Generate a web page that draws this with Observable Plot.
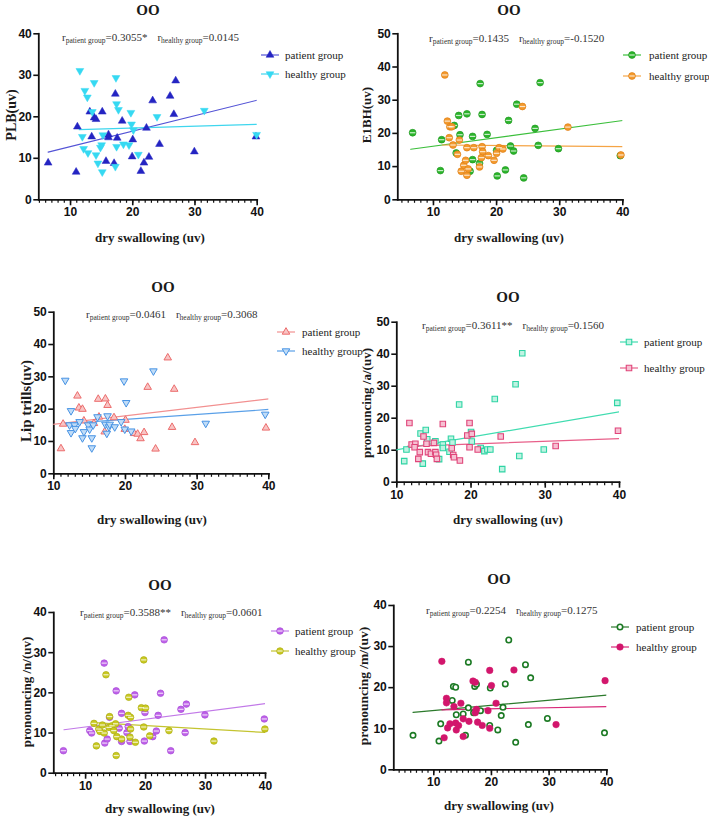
<!DOCTYPE html>
<html>
<head>
<meta charset="utf-8">
<script src="https://cdn.jsdelivr.net/npm/d3@7"></script>
<script src="https://cdn.jsdelivr.net/npm/@observablehq/plot@0.6"></script>
<style>
  body { margin: 0; background: #fff; }
  #figure { position: relative; width: 709px; height: 819px; overflow: hidden; background: #fff; }
  .t { position: absolute; white-space: nowrap; color: #1a1a1a; line-height: 1; }
  .title { font: bold 15px "Liberation Serif", "Times New Roman", serif; transform: translate(-50%, -50%); }
  .xlab { font: bold 13px "Liberation Serif", "Times New Roman", serif; transform: translate(-50%, -50%); }
  .ylab { font: bold 13px "Liberation Serif", "Times New Roman", serif; transform: translate(-50%, -50%) rotate(-90deg); }
  .corr { font: 11px "Liberation Serif", "Times New Roman", serif; color: #333; transform: translateY(-50%); }
  .corr sub { font-size: 7.5px; vertical-align: -2px; }
  .leg { font: 11px "Liberation Serif", "Times New Roman", serif; color: #222; transform: translateY(-50%); }
  .swatch { position: absolute; overflow: visible; }
</style>
</head>
<body>
<div id="figure"></div>
<script>
// ---- data: [dry swallowing, measure] pairs per group ----
const groups = ["patient group", "healthy group"];
const xTitle = "dry swallowing (uv)";

const plbPatient = [[6.4,8.9],[10.9,6.7],[11.1,17.6],[13.1,21.2],[13.4,15.2],[13.8,19.8],[14.1,19.4],[15.1,21.2],[15.7,9.3],[16.1,15.7],[16.1,15.0],[17.0,8.8],[17.2,25.5],[17.5,14.9],[18.3,19.0],[20.0,14.5],[19.9,10.4],[21.3,6.9],[21.8,8.9],[22.2,17.3],[22.6,10.3],[23.2,23.9],[24.3,13.4],[26.0,25.0],[26.6,20.6],[26.9,28.7],[29.9,11.6],[39.8,15.2]];
const plbHealthy = [[11.5,31.1],[11.9,15.2],[12.3,26.3],[12.1,12.3],[12.7,24.7],[12.8,11.3],[13.5,21.2],[13.8,28.2],[14.1,10.8],[14.4,8.8],[14.8,12.6],[15.0,13.2],[15.1,6.7],[15.2,15.6],[17.3,29.4],[17.2,8.0],[17.4,23.1],[17.7,21.7],[17.4,12.8],[18.5,13.4],[19.4,13.2],[19.7,21.0],[19.8,18.2],[20.1,16.8],[20.9,10.9],[23.9,20.0],[31.5,21.5],[39.9,15.7]];
const plbFit = [[9.12, 0.372], [16.38, 0.0455]];          // [intercept, slope]
const plbR = ["0.3055*", "0.0145"];

const e1bhPatient = [[6.7,20.2],[11.1,8.8],[11.3,18.1],[13.3,22.4],[13.6,14.1],[14.0,25.4],[14.2,19.6],[15.3,25.9],[15.8,8.6],[16.2,19.1],[16.2,12.1],[17.3,11.0],[17.4,35.0],[17.7,25.7],[18.5,19.7],[20.0,14.9],[20.1,7.2],[21.4,9.0],[21.9,23.9],[22.2,16.2],[22.7,14.7],[23.2,28.8],[24.3,6.6],[26.1,21.5],[26.6,16.4],[26.9,35.3],[29.8,15.4],[39.6,13.3]];
const e1bhHealthy = [[11.8,37.6],[12.2,23.7],[12.6,22.0],[12.9,22.0],[12.5,18.7],[13.1,16.5],[13.8,13.7],[14.1,18.0],[14.4,8.6],[14.8,10.4],[15.1,11.9],[15.3,15.7],[15.3,7.4],[15.5,9.3],[16.4,15.7],[17.3,9.9],[17.6,12.7],[17.7,16.0],[17.8,14.5],[18.7,13.3],[19.6,11.9],[20.0,14.0],[20.4,15.7],[21.0,15.3],[24.1,28.1],[31.3,21.9],[39.7,13.5]];
const e1bhFit = [[13.57, 0.258], [16.71, -0.0177]];
const e1bhR = ["0.1435", "-0.1520"];

const lipPatient = [[11.0,7.8],[11.3,15.4],[13.3,24.1],[13.5,20.4],[14.0,20.0],[14.2,16.4],[15.6,15.6],[16.2,23.1],[16.3,17.6],[17.1,13.0],[17.2,23.2],[17.5,21.2],[18.4,17.4],[19.9,13.8],[20.0,16.6],[21.2,12.5],[21.7,12.3],[22.1,10.9],[22.6,12.8],[23.1,26.8],[24.2,7.7],[25.9,35.9],[26.5,14.4],[26.8,26.2],[29.7,9.7],[39.6,14.2]];
const lipHealthy = [[11.6,28.9],[12.2,15.1],[12.4,19.5],[12.4,12.7],[12.9,15.1],[13.0,14.0],[13.6,16.1],[14.0,11.1],[14.2,13.0],[14.8,15.1],[15.0,13.8],[15.3,11.1],[15.3,8.0],[15.5,15.1],[16.1,17.6],[17.2,15.3],[17.4,12.5],[17.5,17.9],[17.7,14.5],[17.8,15.3],[18.5,14.5],[19.4,16.1],[19.8,28.7],[19.9,13.8],[20.1,22.0],[20.8,13.2],[23.9,31.8],[31.2,15.6],[39.5,18.4]];
const lipFit = [[12.67, 0.263], [13.75, 0.154]];
const lipR = ["0.0461", "0.3068"];

const aPatient = [[11.0,6.6],[11.3,10.2],[13.2,15.2],[13.5,5.8],[13.9,16.3],[14.1,13.4],[15.2,12.8],[15.7,7.2],[16.2,11.8],[16.2,10.7],[17.1,9.5],[17.3,13.6],[17.5,12.4],[18.4,24.3],[20.0,15.7],[20.1,12.7],[21.3,10.7],[21.8,9.7],[22.2,10.2],[22.6,10.2],[23.2,26.0],[24.2,4.1],[26.0,30.6],[26.5,8.2],[26.9,40.3],[29.8,10.2],[39.7,24.8]];
const aHealthy = [[11.7,18.5],[12.0,11.8],[12.5,12.0],[12.4,10.9],[12.9,7.3],[13.1,9.4],[13.6,14.3],[14.0,12.0],[14.2,9.4],[14.6,8.9],[15.0,12.3],[15.2,9.4],[15.3,8.6],[15.4,7.3],[16.2,18.2],[17.4,10.6],[17.6,8.5],[17.7,7.8],[18.5,6.8],[19.5,14.6],[19.8,18.5],[19.8,10.9],[20.1,15.1],[20.9,10.2],[24.0,14.3],[31.4,11.3],[39.8,16.1]];
const aFit = [[6.2, 0.395], [10.24, 0.084]];
const aR = ["0.3611**", "0.1560"];

const nPatient = [[6.3,5.6],[10.7,10.6],[11.0,10.0],[13.1,27.4],[13.2,7.5],[13.6,8.5],[14.0,13.9],[15.1,20.5],[15.6,11.2],[16.0,14.9],[16.0,7.9],[16.9,10.1],[17.1,11.6],[17.4,7.9],[18.2,19.5],[19.9,15.1],[19.8,8.0],[21.2,9.1],[21.8,10.5],[22.1,14.4],[22.5,19.9],[23.1,33.2],[24.2,5.6],[25.9,15.9],[26.6,10.1],[26.8,17.2],[29.9,14.5],[39.8,13.5]];
const nHealthy = [[11.4,12.4],[11.8,6.8],[12.2,11.0],[12.4,10.4],[12.8,12.0],[13.1,10.0],[13.4,24.5],[13.9,11.4],[14.0,14.1],[14.4,11.8],[14.7,10.6],[15.0,12.3],[15.2,9.1],[15.1,4.4],[16.0,8.5],[17.1,14.4],[17.2,18.9],[17.5,13.9],[17.5,11.0],[17.4,9.0],[18.3,7.7],[19.3,16.3],[20.0,16.2],[19.7,28.2],[19.7,11.5],[20.7,9.3],[23.9,10.6],[31.4,8.0],[39.9,11.0]];
const nFit = [[9.58, 0.194], [13.57, -0.086]];
const nR = ["0.3588**", "0.0601"];

const mPatient = [[6.4,8.4],[10.9,7.0],[11.2,11.2],[13.2,16.9],[13.4,20.3],[13.8,20.1],[13.9,13.4],[15.1,13.6],[15.5,8.4],[16.0,26.2],[16.0,15.1],[16.9,13.9],[17.1,20.3],[17.4,20.8],[18.1,14.4],[19.8,19.9],[19.7,10.8],[21.1,9.7],[21.7,13.2],[22.0,15.2],[22.4,20.9],[23.0,31.6],[24.2,6.7],[25.9,25.6],[26.4,11.0],[26.8,22.4],[29.7,12.5],[39.6,9.0]];
const mHealthy = [[11.4,26.4],[11.8,7.8],[12.2,17.4],[12.2,16.3],[12.4,10.2],[12.8,11.2],[13.5,15.4],[13.8,11.4],[13.9,9.7],[14.3,10.8],[14.7,16.2],[15.1,12.4],[15.1,8.1],[16.1,11.8],[16.8,21.6],[17.2,21.3],[17.2,13.9],[17.4,14.7],[17.6,11.6],[18.4,10.8],[19.4,14.4],[19.7,24.2],[19.7,10.1],[20.0,20.5],[20.8,16.2],[23.9,24.3],[31.2,11.0],[39.7,21.7]];
const mFit = [[13.2, 0.125], [14.28, 0.028]];
const mR = ["0.2254", "0.1275"];

// x extent of each group's fitted line
const fitSpan = [[6.4, 40], [11.4, 40]];

// horizontal highlight drawn across the shaded circle markers
const band = {
  draw(context, size) {
    const r = Math.sqrt(size / Math.PI);
    context.moveTo(-r * 0.8, 0);
    context.lineTo(r * 0.8, 0);
  }
};

// ---- panel layout and styling ----
const panels = [
  { yTitle: "PLB(uv)", series: [plbPatient, plbHealthy], fit: plbFit, r: plbR,
    box: [0, 20, 354, 205], frame: [38.3, 33.3, 256.7, 199.3], x0: 4.9, ymax: 40,
    title: [148, 10], corr: [62, 38], yLab: [12, 115, 14], xLab: [150, 238],
    legend: { cx: 270, tx: 285, ys: [55, 74] },
    styles: [
      { symbol: "triangle", fill: "#2424c2", stroke: "#2424c2", sw: 0.5, r: 2.9, line: "#5454d6" },
      { symbol: "triangle", rotate: 180, fill: "#36d9f2", stroke: "#36d9f2", sw: 0.5, r: 2.9, line: "#3fd6ee" }
    ] },
  { yTitle: "E1BH(uv)", series: [e1bhPatient, e1bhHealthy], fit: e1bhFit, r: e1bhR,
    box: [354, 20, 355, 205], frame: [397.3, 33.3, 622.3, 199.3], x0: 4.35, ymax: 50,
    title: [509, 10], corr: [429, 39], yLab: [367, 115, 13], xLab: [509, 238],
    legend: { cx: 632, tx: 649, ys: [55, 76] },
    styles: [
      { symbol: "circle", fill: "#2cb52c", stroke: "#1f9a1f", sw: 0.7, r: 3.4, band: true, line: "#3cbf3c" },
      { symbol: "circle", fill: "#f39a2e", stroke: "#e07e12", sw: 0.7, r: 3.4, band: true, line: "#f5a445" }
    ] },
  { yTitle: "Lip trills(uv)", series: [lipPatient, lipHealthy], fit: lipFit, r: lipR,
    box: [0, 300, 354, 200], frame: [53.3, 311.7, 268.3, 473.3], x0: 10, ymax: 50,
    title: [163, 287], corr: [86, 315], yLab: [26, 401, 15], xLab: [152, 520],
    legend: { cx: 286, tx: 302, ys: [332, 351] },
    styles: [
      { symbol: "triangle", fill: "#f8c4c4", stroke: "#ec6c6c", sw: 1, r: 2.8, line: "#f29090" },
      { symbol: "triangle", rotate: 180, fill: "#c0dcf7", stroke: "#4793e4", sw: 1, r: 2.8, line: "#5aa0e8" }
    ] },
  { yTitle: "pronouncing /a/(uv)", series: [aPatient, aHealthy], fit: aFit, r: aR,
    box: [354, 310, 355, 200], frame: [396.3, 321.7, 619, 481.7], x0: 10, ymax: 50,
    title: [508, 297], corr: [422, 326], yLab: [367, 403, 13], xLab: [508, 520],
    legend: { cx: 629, tx: 644, ys: [342, 368] },
    styles: [
      { symbol: "square", fill: "#bff3e2", stroke: "#2ed4a4", sw: 1.1, r: 3.1, line: "#40dcb0" },
      { symbol: "square", fill: "#f6c0d2", stroke: "#e0457a", sw: 1.1, r: 3.1, line: "#e8608a" }
    ] },
  { yTitle: "pronouncing /n/(uv)", series: [nPatient, nHealthy], fit: nFit, r: nR,
    box: [0, 600, 354, 200], frame: [53.3, 612, 265, 772.7], x0: 4.7, ymax: 40,
    title: [160, 585], corr: [80, 613], yLab: [27, 692, 13], xLab: [160, 809],
    legend: { cx: 280, tx: 295, ys: [631, 651] },
    styles: [
      { symbol: "circle", fill: "#be62e8", stroke: "#a848d8", sw: 0.7, r: 3.3, band: true, line: "#c27ae8" },
      { symbol: "circle", fill: "#c9c922", stroke: "#aeae10", sw: 0.7, r: 3.3, band: true, line: "#c4c430" }
    ] },
  { yTitle: "pronouncing /m/(uv)", series: [mPatient, mHealthy], fit: mFit, r: mR,
    box: [354, 595, 355, 200], frame: [393.3, 605, 606.3, 769.3], x0: 3.07, ymax: 40,
    title: [499, 579], corr: [426, 611], yLab: [364, 686, 13.5], xLab: [499, 806],
    legend: { cx: 620, tx: 636, ys: [627, 647] },
    styles: [
      { symbol: "circle", fill: "#ffffff", stroke: "#1c7a24", sw: 1.6, r: 2.7, line: "#2c7a2c" },
      { symbol: "circle", fill: "#d2166c", stroke: "#d2166c", sw: 0.5, r: 3.3, line: "#d82878" }
    ] }
];

const fig = document.getElementById("figure");

function addText(cls, html, x, y) {
  const d = document.createElement("div");
  d.className = "t " + cls;
  d.innerHTML = html;
  d.style.left = x + "px";
  d.style.top = y + "px";
  fig.appendChild(d);
  return d;
}

function dotMarks(pts, s) {
  const marks = [
    Plot.dot(pts, {
      x: d => d[0], y: d => d[1], symbol: s.symbol, rotate: s.rotate || 0,
      r: s.r, fill: s.fill, stroke: s.stroke, strokeWidth: s.sw
    })
  ];
  if (s.band) {
    marks.push(Plot.dot(pts, {
      x: d => d[0], y: d => d[1], symbol: band, r: s.r,
      stroke: "#ffffff", strokeOpacity: 0.75, strokeWidth: 1.2
    }));
  }
  return marks;
}

function drawPanel(p) {
  const [bx, by, bw, bh] = p.box;
  const [fl, ft, fr, fb] = p.frame;
  const fitLines = p.fit.map(([a, b], i) => {
    const [x0, x1] = fitSpan[i];
    return Plot.line([[x0, a + b * x0], [x1, a + b * x1]], {
      x: d => d[0], y: d => d[1], stroke: p.styles[i].line, strokeWidth: 1.2, clip: true
    });
  });
  const svg = Plot.plot({
    width: bw, height: bh,
    marginLeft: fl - bx, marginRight: bx + bw - fr,
    marginTop: ft - by, marginBottom: by + bh - fb,
    x: { domain: [p.x0, 40] },
    y: { domain: [0, p.ymax] },
    style: "font-family: 'Liberation Sans', Arial, sans-serif; font-size: 12px; font-weight: bold; color: #111; background: transparent; overflow: visible;",
    marks: [
      Plot.axisY({ ticks: d3.range(0, p.ymax + 1, 10), tickSize: 5, tickPadding: 2, strokeWidth: 1.6, label: null }),
      Plot.axisX({ ticks: [10, 20, 30, 40], tickSize: 6, tickPadding: 2, strokeWidth: 1.6, label: null }),
      Plot.axisX({ ticks: d3.range(Math.ceil(p.x0), 41), tickSize: 3.5, strokeWidth: 1.2, tickFormat: () => "", label: null }),
      Plot.frame({ anchor: "left", strokeWidth: 1.8 }),
      Plot.frame({ anchor: "bottom", strokeWidth: 1.8 }),
      ...fitLines,
      ...dotMarks(p.series[0], p.styles[0]),
      ...dotMarks(p.series[1], p.styles[1])
    ]
  });
  svg.style.position = "absolute";
  svg.style.left = bx + "px";
  svg.style.top = by + "px";
  fig.appendChild(svg);

  addText("title", "OO", p.title[0], p.title[1]);
  addText("corr",
    `r<sub>${groups[0]}</sub>=${p.r[0]}<span style="margin-left:10px">r<sub>${groups[1]}</sub>=${p.r[1]}</span>`,
    p.corr[0], p.corr[1]);
  const yl = addText("ylab", p.yTitle, p.yLab[0], p.yLab[1]);
  yl.style.fontSize = p.yLab[2] + "px";
  addText("xlab", xTitle, p.xLab[0], p.xLab[1]);

  // legend rows: line sample with marker, then group name
  groups.forEach((g, i) => {
    const s = p.styles[i];
    const cy = p.legend.ys[i];
    const w = 18, h = 12;
    const sw = d3.create("svg").attr("class", "swatch").attr("width", w).attr("height", h)
      .style("left", (p.legend.cx - w / 2) + "px").style("top", (cy - h / 2) + "px");
    sw.append("line").attr("x1", 0).attr("x2", w).attr("y1", h / 2).attr("y2", h / 2)
      .attr("stroke", s.line).attr("stroke-width", 1.2);
    const type = { circle: d3.symbolCircle, triangle: d3.symbolTriangle, square: d3.symbolSquare }[s.symbol];
    const size = Math.PI * s.r * s.r;
    sw.append("path").attr("d", d3.symbol(type, size)())
      .attr("transform", `translate(${w / 2},${h / 2}) rotate(${s.rotate || 0})`)
      .attr("fill", s.fill).attr("stroke", s.stroke).attr("stroke-width", s.sw);
    if (s.band) {
      sw.append("path").attr("d", d3.symbol(band, size)())
        .attr("transform", `translate(${w / 2},${h / 2})`)
        .attr("stroke", "#fff").attr("stroke-opacity", 0.75).attr("stroke-width", 1.2);
    }
    fig.appendChild(sw.node());
    addText("leg", g, p.legend.tx, cy);
  });
}

panels.forEach(drawPanel);
</script>
</body>
</html>
